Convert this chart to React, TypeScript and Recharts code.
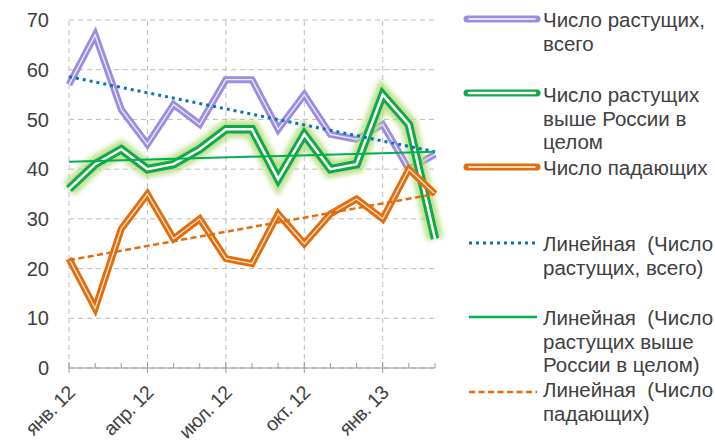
import React from "react";
import {
  LineChart,
  Line,
  XAxis,
  YAxis,
  CartesianGrid,
  ReferenceLine,
} from "recharts";

const months = [
  "янв.12", "фев.12", "мар.12", "апр.12", "май.12", "июн.12", "июл.12",
  "авг.12", "сен.12", "окт.12", "ноя.12", "дек.12", "янв.13", "фев.13", "мар.13",
];
const majorMonths = ["янв.12", "апр.12", "июл.12", "окт.12", "янв.13"];

const rising = [57, 67, 52, 45, 53, 49, 58, 58, 48, 55, 47, 46, 49, 40, 43];
const risingAbove = [36, 41, 44, 40, 41, 44, 48, 48, 38, 47, 40, 41, 55, 49, 26];
const falling = [22, 12, 28, 35, 26, 30, 22, 21, 31, 25, 31, 34, 30, 40, 35];

// trend lines: value at first and last month
const risingTrend = [58.6, 43.5];
const risingAboveTrend = [41.5, 43.5];
const fallingTrend = [21.7, 35];

const yTicks = [0, 10, 20, 30, 40, 50, 60, 70];

const last = months.length - 1;
const data = months.map((m, i) => ({
  month: m,
  rising: rising[i],
  risingAbove: risingAbove[i],
  falling: falling[i],
  risingTrend: i === 0 ? risingTrend[0] : i === last ? risingTrend[1] : null,
  risingAboveTrend: i === 0 ? risingAboveTrend[0] : i === last ? risingAboveTrend[1] : null,
  fallingTrend: i === 0 ? fallingTrend[0] : i === last ? fallingTrend[1] : null,
}));

const FONT = "'Liberation Sans', Arial, sans-serif";
const TEXT = "#404040";
const PURPLE = "#9d8be4";
const GREEN = "#10a94a";
const ORANGE = "#e46c0a";
const BLUE = "#0b70c4";

const MonthTick = (props: any) => {
  const { x, y, payload } = props;
  const major = majorMonths.includes(payload.value);
  const label = payload.value.replace(".", ". ");
  return (
    <g>
      {major ? (
        <line x1={x} x2={x} y1={y - 6} y2={y + 5} stroke="#999" />
      ) : (
        <line x1={x} x2={x} y1={y - 5} y2={y} stroke="#999" />
      )}
      {major && (
        <text
          x={x + 7}
          y={y + 26}
          textAnchor="end"
          fontSize={19.5}
          fontFamily={FONT}
          fill={TEXT}
          letterSpacing={-0.6}
          transform={`rotate(-45 ${x + 7} ${y + 26})`}
        >
          {label}
        </text>
      )}
    </g>
  );
};

const legendItems = [
  { kind: "purple", top: 8, lines: ["Число растущих,", "всего"], iconY: 19 },
  { kind: "green", top: 83, lines: ["Число растущих", "выше России в", "целом"], iconY: 93 },
  { kind: "orange", top: 156, lines: ["Число падающих"], iconY: 167 },
  { kind: "blue", top: 232, lines: ["Линейная  (Число", "растущих, всего)"], iconY: 243 },
  { kind: "greenTrend", top: 306, lines: ["Линейная  (Число", "растущих выше", "России в целом)"], iconY: 317 },
  { kind: "orangeTrend", top: 378, lines: ["Линейная  (Число", "падающих)"], iconY: 392 },
];

const LegendIcon = ({ kind }: { kind: string }) => {
  const w = 70;
  if (kind === "purple" || kind === "green" || kind === "orange") {
    const c = kind === "purple" ? PURPLE : kind === "green" ? GREEN : ORANGE;
    return (
      <svg width={w + 8} height={12} style={{ display: "block" }}>
        <line x1={4} x2={w + 4} y1={6} y2={6} stroke={c} strokeWidth={7} strokeLinecap="round" />
        <line x1={6} x2={w + 2} y1={6} y2={6} stroke="#fff" strokeWidth={kind === "green" ? 2.5 : 1.5} strokeLinecap="round" />
      </svg>
    );
  }
  if (kind === "blue") {
    return (
      <svg width={w + 8} height={12} style={{ display: "block" }}>
        <line x1={6} x2={w + 2} y1={6} y2={6} stroke={BLUE} strokeWidth={3} strokeDasharray="3 4" />
      </svg>
    );
  }
  if (kind === "greenTrend") {
    return (
      <svg width={w + 8} height={12} style={{ display: "block" }}>
        <line x1={6} x2={w + 4} y1={6} y2={6} stroke="#00b050" strokeWidth={2.5} />
      </svg>
    );
  }
  return (
    <svg width={w + 8} height={12} style={{ display: "block" }}>
      <line x1={6} x2={w + 4} y1={6} y2={6} stroke={ORANGE} strokeWidth={2.5} strokeDasharray="6 3.5" />
    </svg>
  );
};

export default function App() {
  return (
    <div style={{ position: "absolute", left: 0, top: 0, width: 715, height: 444, background: "#fff" }}>
      <svg width={0} height={0} style={{ position: "absolute" }}>
        <defs>
          <filter id="glow" x="-10%" y="-20%" width="120%" height="140%">
            <feGaussianBlur stdDeviation="2.5" />
          </filter>
        </defs>
      </svg>
      <div style={{ position: "absolute", left: 0, top: 0 }}>
        <LineChart width={450} height={444} data={data} margin={{ top: 20, right: 15, left: 0, bottom: 0 }}>
          <CartesianGrid vertical={false} stroke="#bcbcbc" strokeDasharray="5 4" />
          {majorMonths.map((m) => (
            <ReferenceLine key={m} x={m} stroke="#bcbcbc" strokeDasharray="5 4" />
          ))}
          <XAxis
            dataKey="month"
            scale="point"
            interval={0}
            height={76}
            tickSize={0}
            tickMargin={0}
            tickLine={false}
            axisLine={{ stroke: "#999" }}
            tick={<MonthTick />}
          />
          <YAxis
            domain={[0, 70]}
            ticks={yTicks}
            width={69}
            axisLine={false}
            tickLine={false}
            tickSize={6}
            tickMargin={14}
            tick={{ fontSize: 20, fontFamily: FONT, fill: TEXT }}
          />
          <Line dataKey="rising" stroke={PURPLE} strokeWidth={7} dot={false} activeDot={false} isAnimationActive={false} />
          <Line dataKey="rising" stroke="#ffffff" strokeOpacity={0.85} strokeWidth={1.3} dot={false} activeDot={false} isAnimationActive={false} />
          <Line dataKey="risingAbove" stroke="#b4dc7c" strokeOpacity={0.85} strokeWidth={17} filter="url(#glow)" dot={false} activeDot={false} isAnimationActive={false} />
          <Line dataKey="risingAbove" stroke={GREEN} strokeWidth={8.5} dot={false} activeDot={false} isAnimationActive={false} />
          <Line dataKey="risingAbove" stroke="#ffffff" strokeWidth={2.5} dot={false} activeDot={false} isAnimationActive={false} />
          <Line dataKey="falling" stroke={ORANGE} strokeWidth={7} dot={false} activeDot={false} isAnimationActive={false} />
          <Line dataKey="falling" stroke="#ffffff" strokeOpacity={0.85} strokeWidth={1.3} dot={false} activeDot={false} isAnimationActive={false} />
          <Line dataKey="risingTrend" connectNulls stroke={BLUE} strokeWidth={3} strokeDasharray="3 4" dot={false} activeDot={false} isAnimationActive={false} />
          <Line dataKey="risingAboveTrend" connectNulls stroke="#00b050" strokeWidth={2} dot={false} activeDot={false} isAnimationActive={false} />
          <Line dataKey="fallingTrend" connectNulls stroke={ORANGE} strokeWidth={2.5} strokeDasharray="6 3.5" dot={false} activeDot={false} isAnimationActive={false} />
        </LineChart>
      </div>
      {legendItems.map((it) => (
        <div key={it.kind}>
          <div style={{ position: "absolute", left: 463, top: it.iconY - 6 }}>
            <LegendIcon kind={it.kind} />
          </div>
          <div
            style={{
              position: "absolute",
              left: 543,
              top: it.top,
              fontFamily: FONT,
              fontSize: 20.5,
              lineHeight: "23.5px",
              color: TEXT,
              whiteSpace: "pre",
            }}
          >
            {it.lines.map((l, i) => (
              <div key={i}>{l}</div>
            ))}
          </div>
        </div>
      ))}
    </div>
  );
}
